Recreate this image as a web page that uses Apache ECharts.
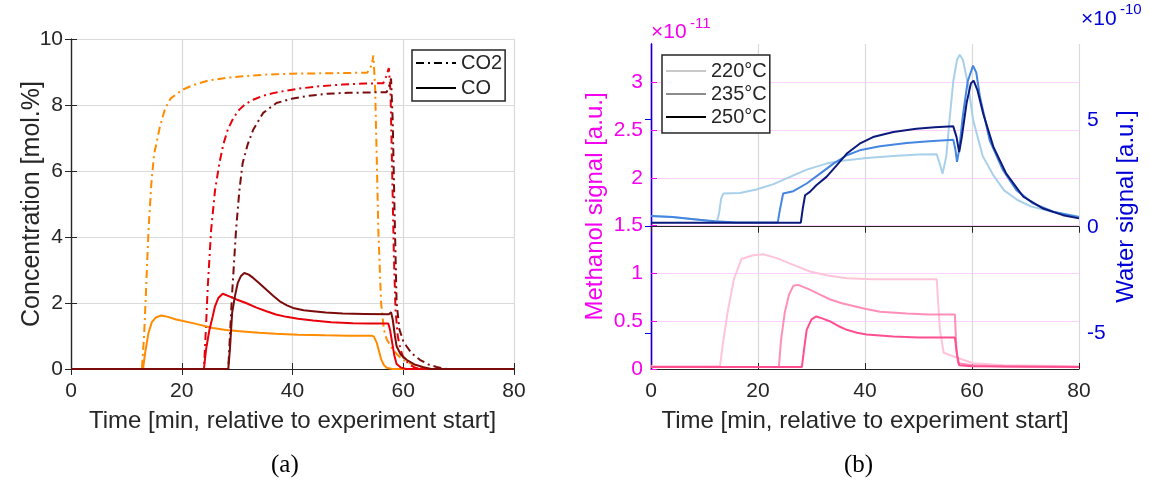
<!DOCTYPE html>
<html>
<head>
<meta charset="utf-8">
<script src="https://cdn.jsdelivr.net/npm/echarts@6/dist/echarts.min.js"></script>
<style>
  html, body { margin: 0; padding: 0; background: #fff; }
  #chart { width: 1149px; height: 485px; }
</style>
</head>
<body>
<div id="chart"></div>
<script>
// time axis (both panels), minutes
const timeTicks = [0, 20, 40, 60, 80];
const concTicks = [0, 2, 4, 6, 8, 10];
const methanolTicks = [0, 0.5, 1, 1.5, 2, 2.5, 3];
const waterTicks = [-5, 0, 5];

// panel (a): concentration [mol.%], [time, value]
const co2Orange = [[0,0],[12.8,0],[13.2,1.0],[13.6,2.6],[14,4.2],[14.5,5.6],[15,6.5],[16,7.3],[17,7.9],[18,8.2],[20,8.45],[22,8.6],[25,8.75],[28,8.82],[31,8.87],[35,8.92],[40,8.95],[45,8.96],[50,8.97],[53.5,8.98],[54.3,9.2],[54.6,9.5],[54.9,8.6],[55.2,6.5],[55.5,4.2],[56,2.0],[56.5,1.2],[57,0.9],[58,0.62],[59,0.42],[60,0.28],[61,0.19],[62,0.13],[63,0.07],[64,0.03],[65,0],[80,0]];
const co2Red = [[0,0],[24,0],[24.3,1.0],[24.7,2.5],[25.3,4.2],[26,5.4],[26.8,6.24],[27.5,6.8],[28.3,7.25],[29.3,7.6],[30.4,7.86],[31.5,8.03],[32.9,8.16],[34.5,8.27],[36.5,8.36],[39,8.44],[41.3,8.5],[45,8.57],[49,8.62],[53,8.65],[56.4,8.66],[56.9,8.85],[57.4,9.12],[57.7,8.4],[58,6.0],[58.3,3.5],[58.6,1.8],[59,1.0],[59.5,0.6],[60,0.35],[61,0.15],[62,0.05],[63,0],[80,0]];
const co2DarkRed = [[0,0],[28.4,0],[28.7,1.0],[29.1,2.3],[29.8,4.2],[30.4,5.4],[31,6.24],[31.9,6.8],[32.9,7.25],[34.7,7.76],[37.1,8.06],[40.1,8.2],[43,8.28],[46.1,8.34],[50,8.37],[54,8.38],[57,8.39],[57.5,8.6],[57.8,8.8],[58.1,7.5],[58.4,5.0],[58.8,2.0],[59.3,1.2],[60,0.85],[60.6,0.69],[61.5,0.48],[63,0.28],[64.5,0.14],[66,0.06],[67.5,0.01],[68,0],[80,0]];
const coOrange = [[0,0],[13,0],[13.4,0.5],[14,1.1],[14.6,1.42],[15.3,1.56],[16.3,1.62],[17.5,1.58],[19,1.5],[22,1.39],[25.6,1.24],[28,1.18],[31,1.14],[34,1.1],[37,1.07],[41,1.04],[46,1.02],[50,1.01],[54.3,1.01],[54.7,0.98],[55.2,0.8],[55.6,0.55],[56,0.3],[56.5,0.12],[57,0.04],[58,0],[80,0]];
const coRed = [[0,0],[24,0],[24.4,0.6],[25,1.19],[25.6,1.6],[26,1.9],[26.6,2.15],[27.4,2.28],[28.6,2.2],[30,2.1],[31.6,2.0],[33.5,1.86],[35.3,1.75],[37,1.65],[38.9,1.58],[41,1.52],[43.7,1.47],[47,1.42],[50.9,1.39],[54,1.38],[57.3,1.38],[57.6,1.2],[58,0.8],[58.4,0.4],[58.8,0.15],[59.5,0.05],[60.5,0],[80,0]];
const coDarkRed = [[0,0],[28.4,0],[28.7,0.6],[29.1,1.7],[29.6,2.2],[30.1,2.6],[30.7,2.82],[31.3,2.91],[32.1,2.86],[32.9,2.76],[34,2.6],[35.3,2.4],[36.5,2.22],[37.7,2.05],[39,1.93],[40.1,1.85],[42,1.78],[43.7,1.75],[46,1.71],[49.1,1.68],[53,1.67],[57.4,1.66],[57.8,1.72],[58.1,1.5],[58.5,1.0],[58.8,0.69],[59.5,0.45],[60.6,0.28],[62,0.14],[63.5,0.06],[65,0],[80,0]];

// panel (b): water signal (x1e-10) and methanol signal (x1e-11)
const water220 = [[0,0.5],[4,0.45],[8,0.35],[10.4,0.28],[12.3,0.23],[12.7,0.6],[13.1,1.3],[13.5,1.55],[16.6,1.58],[19.7,1.74],[22.9,1.99],[26,2.33],[29.1,2.67],[32.8,2.95],[35.3,3.07],[40.3,3.21],[45.3,3.31],[50,3.37],[53.4,3.39],[53.9,3.0],[54.5,2.48],[55.2,3.3],[55.8,5.0],[56.5,6.8],[57.2,7.8],[57.7,8.04],[58.3,7.8],[59.3,6.6],[60.2,5.0],[62,3.3],[64,2.4],[66,1.7],[68.5,1.25],[71,0.95],[75,0.7],[80,0.48]];
const water235 = [[0,0.5],[4,0.45],[8,0.35],[12,0.25],[16,0.2],[20,0.2],[23.7,0.2],[24.1,0.8],[24.7,1.55],[26.6,1.66],[29.1,2.02],[31.6,2.48],[34.1,2.95],[36.6,3.34],[39,3.57],[42.8,3.76],[47.8,3.91],[52,4.0],[56.5,4.07],[56.9,3.6],[57.2,3.03],[57.6,3.6],[58.3,5.2],[59.2,6.8],[60.2,7.53],[60.8,7.2],[61.5,6.06],[63.3,4.04],[65.8,2.64],[68.3,1.71],[71.4,1.09],[75.2,0.7],[80,0.44]];
const water250 = [[0,0.19],[28,0.19],[28.4,0.9],[28.8,1.47],[29.7,1.63],[30.9,1.94],[32.8,2.33],[34.7,2.87],[36.6,3.42],[39,3.88],[41.5,4.19],[45.3,4.43],[49.6,4.58],[53,4.65],[56.5,4.69],[57.1,4.2],[57.6,3.49],[58.1,4.2],[59,5.8],[59.8,6.7],[60.3,6.83],[61,6.4],[62.1,5.28],[64,3.73],[66.4,2.48],[69.6,1.4],[73.3,0.85],[77,0.54],[80,0.39]];
const methanol220 = [[0,0.03],[12.9,0.03],[13.4,0.25],[14.3,0.59],[15.5,0.94],[16.9,1.15],[19.1,1.19],[21,1.2],[23.5,1.16],[26.6,1.09],[29.7,1.02],[32.8,0.98],[36.6,0.95],[41.5,0.94],[47.8,0.94],[53.4,0.94],[54,0.41],[54.7,0.17],[57.1,0.12],[60.2,0.06],[66,0.04],[80,0.03]];
const methanol235 = [[0,0.02],[23.9,0.02],[24.3,0.3],[25,0.59],[25.8,0.78],[26.6,0.87],[27.5,0.88],[29.7,0.83],[31.5,0.78],[33.4,0.73],[35.5,0.69],[37.8,0.66],[40,0.63],[42.8,0.6],[47.8,0.58],[52,0.57],[56.8,0.57],[57.1,0.2],[57.4,0.06],[60,0.04],[66,0.025],[80,0.02]];
const methanol250 = [[0,0.02],[28.2,0.02],[28.6,0.2],[29.1,0.41],[30,0.52],[30.9,0.55],[32,0.53],[33.4,0.5],[35,0.45],[36.6,0.41],[38.5,0.38],[40.3,0.36],[45.3,0.34],[50,0.33],[56.8,0.33],[57.2,0.15],[57.6,0.04],[60,0.03],[80,0.02]];

const FONT = 'Liberation Sans, Arial, sans-serif';
const TXT = '#262626';
const MAGENTA = '#f500f0';
const BLUE = '#0000d8';
const DASHDOT = [8, 4, 2, 4];

const myChart = echarts.init(document.getElementById('chart'));

function xAxisOpt(gridIndex, bottom) {
  return {
    type: 'value',
    gridIndex,
    position: bottom ? 'bottom' : 'top',
    min: 0,
    max: 80,
    interval: 20,
    axisLine: { show: true, lineStyle: { color: TXT, width: 1.2 } },
    axisTick: { show: true, inside: true, length: 6, lineStyle: { color: TXT } },
    axisLabel: bottom
      ? { show: true, color: TXT, fontSize: 21, fontFamily: FONT, margin: 12 }
      : { show: false },
    splitLine: { show: bottom, lineStyle: { color: '#dadada', width: 1.2 } },
    name: bottom ? 'Time [min, relative to experiment start]' : '',
    nameLocation: 'middle',
    nameGap: 40,
    nameTextStyle: { color: TXT, fontSize: 24, fontFamily: FONT },
  };
}

function line(data, color, xi, yi, dash) {
  return {
    type: 'line',
    data,
    xAxisIndex: xi,
    yAxisIndex: yi,
    showSymbol: false,
    symbol: 'none',
    silent: true,
    lineStyle: { color, width: 2, type: dash ? DASHDOT : 'solid' },
    z: 3,
  };
}

// empty series, only used for the legend entries
function legendLine(name, color, dash, xi, yi) {
  return {
    type: 'line',
    name,
    data: [],
    xAxisIndex: xi,
    yAxisIndex: yi,
    symbol: 'none',
    color,
    itemStyle: { opacity: 0 },
    lineStyle: { color, width: 2.5, type: dash ? DASHDOT : 'solid' },
  };
}

const option = {
  backgroundColor: '#fff',
  animation: false,
  grid: [
    { left: 71, top: 39, width: 443, height: 330 },
    { left: 651, top: 44, width: 428, height: 325 },
  ],
  xAxis: [xAxisOpt(0, true), xAxisOpt(0, false), xAxisOpt(1, true), xAxisOpt(1, false)],
  yAxis: [
    {
      type: 'value', gridIndex: 0, position: 'left', min: 0, max: 10, interval: 2,
      axisLine: { show: true, lineStyle: { color: TXT, width: 1.2 } },
      axisTick: { show: true, inside: true, length: 6, lineStyle: { color: TXT } },
      axisLabel: { color: TXT, fontSize: 21, fontFamily: FONT, margin: 8 },
      splitLine: { show: true, lineStyle: { color: '#dadada', width: 1.2 } },
      name: 'Concentration [mol.%]', nameLocation: 'middle', nameGap: 26,
      nameMoveOverlap: false,
      nameTextStyle: { color: TXT, fontSize: 25, fontFamily: FONT },
    },
    {
      type: 'value', gridIndex: 0, position: 'right', min: 0, max: 10, interval: 2,
      axisLine: { show: true, lineStyle: { color: TXT, width: 1.2 } },
      axisTick: { show: true, inside: true, length: 6, lineStyle: { color: TXT } },
      axisLabel: { show: false },
      splitLine: { show: false },
    },
    {
      type: 'value', gridIndex: 1, position: 'left', min: 0, max: 3.4,
      axisLine: { show: true, lineStyle: { color: MAGENTA, width: 1.4 } },
      axisTick: { show: true, inside: true, length: 6, customValues: methanolTicks, lineStyle: { color: MAGENTA } },
      axisLabel: { color: MAGENTA, fontSize: 21, fontFamily: FONT, margin: 8, customValues: methanolTicks },
      splitLine: { show: true, lineStyle: { color: '#ffd2ff', width: 1.2 } },
      name: 'Methanol signal [a.u.]', nameLocation: 'middle', nameGap: 44,
      nameTextStyle: { color: MAGENTA, fontSize: 24, fontFamily: FONT },
    },
    {
      type: 'value', gridIndex: 1, position: 'right', min: -6.65, max: 8.54,
      axisLine: { show: true, lineStyle: { color: BLUE, width: 1.4 } },
      axisTick: { show: true, inside: true, length: 6, customValues: waterTicks, lineStyle: { color: BLUE } },
      axisLabel: { color: BLUE, fontSize: 21, fontFamily: FONT, margin: 8, customValues: waterTicks },
      splitLine: { show: false },
      name: 'Water signal [a.u.]', nameLocation: 'middle', nameGap: 35,
      nameTextStyle: { color: BLUE, fontSize: 24, fontFamily: FONT },
    },
  ],
  legend: [
    {
      data: ['CO2', 'CO'],
      orient: 'vertical', left: 412, top: 50,
      itemWidth: 40, itemHeight: 14, itemGap: 5,
      padding: [3, 3, 3, 3],
      itemStyle: { opacity: 0 },
      borderColor: TXT, borderWidth: 1.5, backgroundColor: '#fff',
      textStyle: { color: TXT, fontSize: 20, fontFamily: FONT },
      selectedMode: false,
    },
    {
      data: ['220°C', '235°C', '250°C'],
      orient: 'vertical', left: 662, top: 55,
      itemWidth: 40, itemHeight: 14, itemGap: 3,
      padding: [6, 3, 6, 3],
      itemStyle: { opacity: 0 },
      borderColor: TXT, borderWidth: 1.5, backgroundColor: '#fff',
      textStyle: { color: TXT, fontSize: 20, fontFamily: FONT },
      selectedMode: false,
    },
  ],
  graphic: [
    { type: 'text', left: 651, top: 22, style: { text: '×10', fill: MAGENTA, font: '21px ' + FONT } },
    { type: 'text', left: 690, top: 16, style: { text: '-11', fill: MAGENTA, font: '15px ' + FONT } },
    { type: 'text', left: 1081, top: 9, style: { text: '×10', fill: BLUE, font: '21px ' + FONT } },
    { type: 'text', left: 1120, top: 2, style: { text: '-10', fill: BLUE, font: '15px ' + FONT } },
    { type: 'text', left: 271, top: 453, style: { text: '(a)', fill: '#000', font: '25px Liberation Serif, Times New Roman, serif' } },
    { type: 'text', left: 844, top: 453, style: { text: '(b)', fill: '#000', font: '25px Liberation Serif, Times New Roman, serif' } },
  ],
  series: [
    line(co2Orange, '#ff8c00', 0, 0, true),
    line(co2Red, '#e8000a', 0, 0, true),
    line(co2DarkRed, '#7a0c0c', 0, 0, true),
    line(coOrange, '#ff8c00', 0, 0, false),
    line(coRed, '#e8000a', 0, 0, false),
    line(coDarkRed, '#7a0c0c', 0, 0, false),
    line(methanol220, '#ffc4d8', 2, 2, false),
    line(methanol235, '#ff8fb8', 2, 2, false),
    line(methanol250, '#ff4f90', 2, 2, false),
    line(water220, '#a8d0ea', 2, 3, false),
    line(water235, '#4486e0', 2, 3, false),
    line(water250, '#0c1a7c', 2, 3, false),
    legendLine('CO2', '#000', true, 0, 0),
    legendLine('CO', '#000', false, 0, 0),
    legendLine('220°C', '#c8c8c8', false, 2, 2),
    legendLine('235°C', '#8c8c8c', false, 2, 2),
    legendLine('250°C', '#000', false, 2, 2),
  ],
};

myChart.setOption(option);
</script>
</body>
</html>
